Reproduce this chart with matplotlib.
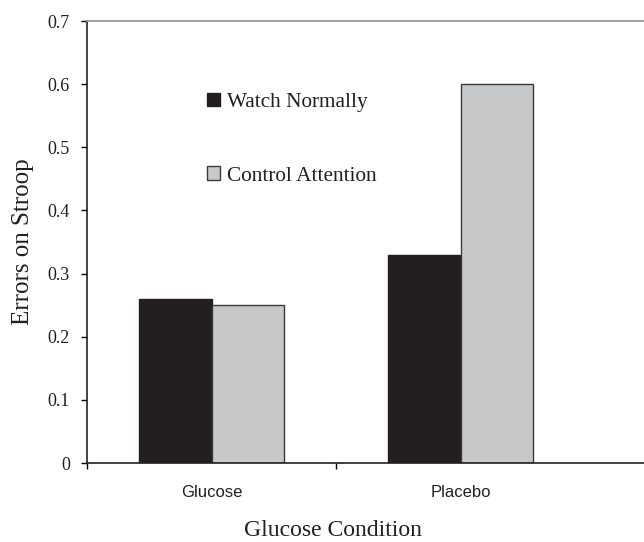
import numpy as np
import matplotlib
matplotlib.use("Agg")
import matplotlib.pyplot as plt

# values
conditions = ['Glucose', 'Placebo']
series_names = ['Watch Normally', 'Control Attention']
watch_normally = [0.26, 0.33]
control_attention = [0.25, 0.60]
y_ticks = [0, 0.1, 0.2, 0.3, 0.4, 0.5, 0.6, 0.7]
y_tick_labels = ['0', '0.1', '0.2', '0.3', '0.4', '0.5', '0.6', '0.7']

SERIF = ['Liberation Serif', 'DejaVu Serif']
SANS = ['Liberation Sans', 'DejaVu Sans']
BLACK = '#231f20'
GRAY = '#c7c8ca'

fig = plt.figure(figsize=(6.44, 5.42), dpi=100)
W, H = 644, 542
ax = fig.add_axes([87 / W, (H - 463) / H, (W - 87) / W, (463 - 21) / H])

x = np.arange(len(conditions))
w = 0.29
b1 = ax.bar(x - w / 2, watch_normally, w, color=BLACK, edgecolor=BLACK,
            linewidth=1.0, label=series_names[0])
b2 = ax.bar(x + w / 2, control_attention, w, color=GRAY, edgecolor='#3a3a3a',
            linewidth=1.0, label=series_names[1])

ax.set_xlim(-0.5, 0.5 + (W - 336) / 249)
ax.set_ylim(0, 0.7)

ax.set_yticks(y_ticks)
ax.set_yticklabels(y_tick_labels, fontfamily=SERIF, fontsize=13, color='#231f20')
ax.tick_params(axis='y', direction='out', length=4.3, width=1.0, pad=8)

# category boundaries as major ticks, labels on minor ticks
ax.set_xticks([-0.5, 0.5])
ax.set_xticklabels([])
ax.set_xticks(x, minor=True)
ax.set_xticklabels(conditions, minor=True, fontfamily=SANS, fontsize=12,
                   color='#231f20')
ax.tick_params(axis='x', which='major', direction='out', length=4.5, width=1.0)
ax.tick_params(axis='x', which='minor', length=0, pad=16)

ax.spines['right'].set_visible(False)
ax.spines['top'].set_color('#9a9a9a')
ax.spines['top'].set_linewidth(1.3)
ax.spines['left'].set_color('#231f20')
ax.spines['left'].set_linewidth(1.2)
ax.spines['bottom'].set_color('#231f20')
ax.spines['bottom'].set_linewidth(1.2)

ax.text(-(87 - 23) / 557, 0.5, 'Errors on Stroop', rotation=90,
        transform=ax.transAxes, ha='center', va='center',
        fontfamily=SERIF, fontsize=18, color='#231f20')
ax.text((333 - 87) / 557, (463 - 530) / 442, 'Glucose Condition',
        transform=ax.transAxes, ha='center', va='center',
        fontfamily=SERIF, fontsize=17, color='#231f20')

ax.legend(handles=[b1, b2], loc='upper left',
          bbox_to_anchor=((207 - 87) / 557, (463 - 93) / 442),
          frameon=False, borderpad=0, borderaxespad=0,
          handlelength=0.6, handleheight=0.6, handletextpad=0.35,
          labelspacing=2.55, prop={'family': SERIF, 'size': 15.3})
for t in ax.get_legend().get_texts():
    t.set_color('#231f20')

fig.savefig('out.png', dpi=100)
